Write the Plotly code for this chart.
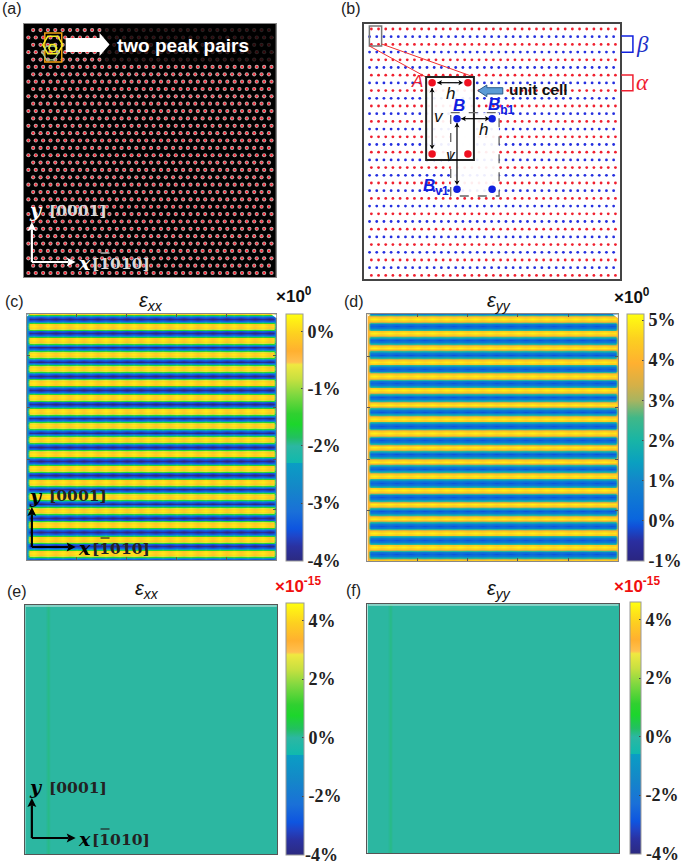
import numpy as np
import plotly.graph_objects as go

W, H = 685, 864

# ---------- data ----------
lattice_cols_a = [0, 1, 2, 3, 4, 5, 6, 7, 8, 9, 10, 11, 12, 13, 14, 15, 16, 17, 18, 19, 20, 21, 22, 23, 24, 25, 26, 27, 28, 29, 30, 31, 32, 33]
lattice_rows_a = [0, 1, 2, 3, 4, 5, 6, 7, 8, 9, 10, 11, 12, 13, 14, 15, 16, 17, 18, 19, 20, 21, 22, 23, 24, 25, 26, 27, 28, 29, 30, 31, 32, 33]
odd_row_shift_a = 0.65

lattice_cols_b = [0, 1, 2, 3, 4, 5, 6, 7, 8, 9, 10, 11, 12, 13, 14, 15, 16, 17, 18, 19, 20, 21, 22, 23, 24, 25, 26, 27, 28, 29, 30, 31, 32, 33, 34]
rows_alpha = [0, 2, 4, 6, 8, 10, 12, 14, 16, 18, 20, 22, 24, 26, 28, 30, 32]
rows_beta = [1, 3, 5, 7, 9, 11, 13, 15, 17, 19, 21, 23, 25, 27, 29, 31]
beta_shift = -0.25

cell_a_x = [8.46, 13.45, 8.46, 13.45]
cell_a_y = [6.97, 6.97, 16.23, 16.23]
cell_b_x = [11.93, 16.82, 11.93, 16.82]
cell_b_y = [11.65, 11.65, 20.82, 20.82]

# one stripe period of strain (%)
profile_xx = [0.05, -0.05, -1.5, -3.3, -3.9, -3.3, -1.5, -0.05]
profile_yy = [0.0, 0.6, 2.2, 4.4, 4.85, 4.4, 2.2, 0.6]
stripe_periods = 18
edge_xx = -2.7
edge_yy = 4.0

column_x = [0, 0.12, 0.4, 1, 2, 3, 4, 5, 6, 7, 8, 9, 10, 11, 12, 13, 14, 15, 16, 17, 18, 19, 20, 21, 22, 23, 24, 25,
            26, 27, 28, 29, 30, 31, 32, 33, 34, 34.6, 34.88, 35]
column_blend = [0, 0.15, 1, 1, 1, 1, 1, 1, 1, 1, 1, 1, 1, 1, 1, 1, 1, 1, 1, 1, 1, 1, 1, 1, 1, 1, 1, 1,
                1, 1, 1, 1, 1, 1, 1, 1, 1, 1, 0.15, 0]
column_wave = [0, 0, 0, 0.12, -0.12, 0.12, -0.12, 0.12, -0.12, 0.12, -0.12, 0.12, -0.12, 0.12, -0.12, 0.12, -0.12, 0.12, -0.12, 0.12,
               -0.12, 0.12, -0.12, 0.12, -0.12, 0.12, -0.12, 0.12, -0.12, 0.12, -0.12, 0.12, -0.12, 0.12, -0.12, 0.12, -0.12, 0, 0, 0]

residual_x = [0, 0.08, 0.09, 0.10, 1]
residual_y = [0, 1]
residual_values = [0, 0, 0.12, 0, 0]

ticks_c = [0, -1, -2, -3, -4]
ticks_d = [5, 4, 3, 2, 1, 0, -1]
ticks_e = [4, 2, 0, -2, -4]
range_c = [-4.01, 0.3]
range_d = [-1.01, 5.15]
range_e = [-4.01, 4.6]

scale_stepped = [
    [0, "#2c2a80"], [0.06, "#2a32a2"], [0.10, "#1f45c8"], [0.13, "#0e55e0"], [0.2, "#1a70d8"], [0.3, "#1488c8"],
    [0.398, "#0a9ec4"], [0.398, "#10b9ae"], [0.465, "#2cb7a2"], [0.50, "#22c060"], [0.553, "#1cd62c"], [0.596, "#30d030"],
    [0.674, "#80d840"], [0.737, "#c8e040"], [0.795, "#f0e840"], [0.805, "#ffc050"], [0.85, "#ffb030"], [0.92, "#fdd020"],
    [1, "#ffff10"],
]
scale_smooth = [
    [0, "#2a2580"], [0.08, "#2a2ea0"], [0.14, "#1050d8"], [0.17, "#0a66de"], [0.32, "#1385cc"], [0.40, "#0aa0c0"],
    [0.49, "#19b5a5"], [0.58, "#40b888"], [0.65, "#a8b460"], [0.71, "#d4b048"], [0.8, "#ffb030"], [0.9, "#fcd020"],
    [1, "#ffff10"],
]

# ---------- helpers ----------
def px(x):
    return x / W

def py(y):
    return 1 - y / H

annotations, shapes = [], []

def label(x, y, text, size=16, color="#111", family="Liberation Sans", anchor="center"):
    annotations.append(dict(x=px(x), y=py(y), xref="paper", yref="paper", text=text, showarrow=False,
                            xanchor=anchor, yanchor="middle", borderpad=0,
                            font=dict(size=size, color=color, family=family)))

def path(points, line=None, width=1, fill=None, close=True, dash=None):
    d = "M" + " L".join(f"{px(a):.5f},{py(b):.5f}" for a, b in points) + (" Z" if close else "")
    shapes.append(dict(type="path", path=d, xref="paper", yref="paper", layer="above",
                       line=dict(color=line or "rgba(0,0,0,0)", width=width if line else 0, dash=dash or "solid"),
                       fillcolor=fill or "rgba(0,0,0,0)"))

def head(x, y, ux, uy, color, length, half):
    nx, ny = -uy, ux
    path([(x, y), (x - ux * length + nx * half, y - uy * length + ny * half),
          (x - ux * length * 0.8, y - uy * length * 0.8),
          (x - ux * length - nx * half, y - uy * length - ny * half)], fill=color)

def arrow(x0, y0, x1, y1, color="#000", width=2, length=9, half=4.5, both=False):
    L = float(np.hypot(x1 - x0, y1 - y0))
    ux, uy = (x1 - x0) / L, (y1 - y0) / L
    path([(x0, y0), (x1 - ux * length * 0.8, y1 - uy * length * 0.8)], line=color, width=width, close=False)
    head(x1, y1, ux, uy, color, length, half)
    if both:
        head(x0, y0, -ux, -uy, color, length, half)

def box(x0, y0, x1, y1, **kw):
    path([(x0, y0), (x1, y0), (x1, y1), (x0, y1)], **kw)

def hexagon(cx, cy, r, color, width=1.5):
    pts = [(cx + r * np.cos(np.pi * k / 3), cy + r * np.sin(np.pi * k / 3)) for k in range(6)]
    path(pts, line=color, width=width)

def axes_labels(xc, yc, top, right, ylab_y, xlab_y, color, shade):
    arrow(xc, yc, xc, top, color=color, width=2.2)
    arrow(xc, yc, right, yc, color=color, width=2.2)
    label(36, ylab_y, "<b><i>y</i></b>", size=19, color=color, family="DejaVu Serif")
    label(78, ylab_y, "<b>[0001]</b>", size=15.5, color=shade, family="DejaVu Serif")
    label(85, xlab_y, "<b><i>x</i></b>", size=19, color=color, family="DejaVu Serif")
    label(122, xlab_y, "<b>[1010]</b>", size=15.5, color=shade, family="DejaVu Serif")
    path([(101, xlab_y - 10), (110, xlab_y - 10)], line=shade, width=1.2, close=False)

fig = go.Figure()

domains = {
    "": ((24, 277), (24, 277)),
    "2": ((366, 622.7), (23.5, 279)),
    "3": ((26.7, 277.7), (314, 560)),
    "4": ((369, 621), (314, 561)),
    "5": ((25.3, 278.7), (605, 854)),
    "6": ((369, 622), (604, 853)),
}

# ---------- panel a ----------
ax_even_x = [c for r in lattice_rows_a if r % 2 == 0 for c in lattice_cols_a]
ax_even_y = [r for r in lattice_rows_a if r % 2 == 0 for c in lattice_cols_a]
ax_odd_x = [c + odd_row_shift_a for r in lattice_rows_a if r % 2 == 1 for c in lattice_cols_a[:-1]]
ax_odd_y = [r for r in lattice_rows_a if r % 2 == 1 for c in lattice_cols_a[:-1]]
a_x = ax_even_x + ax_odd_x
a_y = ax_even_y + ax_odd_y
fig.add_trace(go.Scatter(x=a_x, y=a_y, mode="markers", xaxis="x", yaxis="y", hoverinfo="skip",
                         marker=dict(size=4.2, color="rgba(240,215,215,0.8)", line=dict(width=0))))
fig.add_trace(go.Scatter(x=a_x, y=a_y, mode="markers", xaxis="x", yaxis="y", hoverinfo="skip",
                         marker=dict(size=2.3, color="#ff2030", line=dict(width=0))))

# ---------- panel b ----------
b_ax = [c for r in rows_alpha for c in lattice_cols_b]
b_ay = [r for r in rows_alpha for c in lattice_cols_b]
b_bx = [c + beta_shift for r in rows_beta for c in lattice_cols_b]
b_by = [r for r in rows_beta for c in lattice_cols_b]
fig.add_trace(go.Scatter(x=b_ax, y=b_ay, mode="markers", xaxis="x2", yaxis="y2", hoverinfo="skip",
                         marker=dict(size=2.8, color="#f0202f", line=dict(width=0))))
fig.add_trace(go.Scatter(x=b_bx, y=b_by, mode="markers", xaxis="x2", yaxis="y2", hoverinfo="skip",
                         marker=dict(size=2.8, color="#2530e0", line=dict(width=0))))

bx = lambda v: (v - 373) / 7.21
by = lambda v: (v - 29) / 7.7
for x0, y0, x1, y1 in [(428, 77, 476, 160), (452.7, 112.7, 501.3, 196)]:
    fig.add_trace(go.Scatter(x=[bx(x0), bx(x1), bx(x1), bx(x0), bx(x0)], y=[by(y0), by(y0), by(y1), by(y1), by(y0)],
                             mode="lines", fill="toself", fillcolor="rgba(255,255,255,0.92)", line=dict(width=0),
                             xaxis="x2", yaxis="y2", hoverinfo="skip"))
fig.add_trace(go.Scatter(x=cell_a_x, y=cell_a_y, mode="markers", xaxis="x2", yaxis="y2", hoverinfo="skip",
                         marker=dict(size=7.5, color="#f01020", line=dict(width=0))))
fig.add_trace(go.Scatter(x=cell_b_x, y=cell_b_y, mode="markers", xaxis="x2", yaxis="y2", hoverinfo="skip",
                         marker=dict(size=7.5, color="#1020e0", line=dict(width=0))))

# ---------- heatmaps ----------
def stripes(profile, edge):
    rows = np.tile(profile, stripe_periods)
    z = []
    for v in rows:
        row = []
        for b, w in zip(column_blend, column_wave):
            row.append(b * (v + w) + (1 - b) * edge)
        z.append(row)
    return z

def colorbar(x0, x1, y0, y1, vals, skip=()):
    return dict(x=px(x0), xanchor="left", y=py(y1), yanchor="bottom", len=(y1 - y0) / H, lenmode="fraction",
                thickness=x1 - x0, thicknessmode="pixels", xpad=0, ypad=0, outlinecolor="#9a9a9a", outlinewidth=1,
                tickmode="array", tickvals=vals, ticktext=["" if v in skip else f"<b>{v}%</b>" for v in vals],
                ticks="inside", ticklen=2, tickcolor="#444",
                tickfont=dict(family="Liberation Serif", size=18, color="#222"))

row_index = list(range(8 * stripe_periods))
fig.add_trace(go.Heatmap(z=stripes(profile_xx, edge_xx), x=column_x, y=row_index, xaxis="x3", yaxis="y3",
                         colorscale=scale_stepped, zmin=range_c[0], zmax=range_c[1], zsmooth="best", hoverinfo="skip",
                         colorbar=colorbar(287, 304, 314, 561, ticks_c)))
fig.add_trace(go.Heatmap(z=stripes(profile_yy, edge_yy), x=column_x, y=row_index, xaxis="x4", yaxis="y4",
                         colorscale=scale_smooth, zmin=range_d[0], zmax=range_d[1], zsmooth="best", hoverinfo="skip",
                         colorbar=colorbar(630, 647, 314, 561, ticks_d)))
residual_z = [residual_values for _ in residual_y]
fig.add_trace(go.Heatmap(z=residual_z, x=residual_x, y=residual_y, xaxis="x5", yaxis="y5",
                         colorscale=scale_stepped, zmin=range_e[0], zmax=range_e[1], zsmooth="best", hoverinfo="skip",
                         colorbar=colorbar(287.5, 305, 603, 855, ticks_e, skip=(-4,))))
fig.add_trace(go.Heatmap(z=residual_z, x=residual_x, y=residual_y, xaxis="x6", yaxis="y6",
                         colorscale=scale_stepped, zmin=range_e[0], zmax=range_e[1], zsmooth="best", hoverinfo="skip",
                         colorbar=colorbar(632.7, 644, 602, 854, ticks_e, skip=(-4,))))

# ---------- axes ----------
def axis(dom, horizontal, rng, line="#888", lw=1, tickvals=None):
    lo, hi = dom
    d = [lo / W, hi / W] if horizontal else [1 - hi / H, 1 - lo / H]
    return dict(domain=d, range=rng, showgrid=False, zeroline=False, showticklabels=False, showline=True,
                linecolor=line, linewidth=lw, mirror="ticks" if tickvals else True,
                ticks="inside" if tickvals else "", ticklen=3, tickcolor="#555", tickvals=tickvals or [],
                fixedrange=True)

layout = dict(width=W, height=H, margin=dict(l=0, r=0, t=0, b=0), paper_bgcolor="white", plot_bgcolor="white",
              showlegend=False)
col_ticks = [7, 14, 21, 28]
row_ticks = [111.4, 83, 53.9, 24.8]
layout["xaxis"] = axis(domains[""][0], True, [(24 - 28.5) / 7.4, (277 - 28.5) / 7.4])
layout["yaxis"] = axis(domains[""][1], False, [(273 - 277) / 7.36, (273 - 24) / 7.36])
layout["xaxis"]["anchor"] = "y"
layout["yaxis"]["anchor"] = "x"
layout["xaxis2"] = axis(domains["2"][0], True, [bx(366), bx(622.7)], line="#444", lw=2)
layout["yaxis2"] = axis(domains["2"][1], False, [by(279), by(23.5)], line="#444", lw=2)
layout["xaxis3"] = axis(domains["3"][0], True, [0, 35], tickvals=col_ticks)
layout["yaxis3"] = axis(domains["3"][1], False, [139.8, 1.2], tickvals=row_ticks)
layout["xaxis4"] = axis(domains["4"][0], True, [0, 35], tickvals=col_ticks)
layout["yaxis4"] = axis(domains["4"][1], False, [139.8, 1.2], tickvals=row_ticks)
layout["xaxis5"] = axis(domains["5"][0], True, [0, 1], line="#555")
layout["yaxis5"] = axis(domains["5"][1], False, [0, 1], line="#555")
layout["xaxis6"] = axis(domains["6"][0], True, [0, 1], line="#555")
layout["yaxis6"] = axis(domains["6"][1], False, [0, 1], line="#555")
for k in ["2", "3", "4", "5", "6"]:
    layout["xaxis" + k]["anchor"] = "y" + k
    layout["yaxis" + k]["anchor"] = "x" + k

# black ground for panel a sits under the dots
shapes.append(dict(type="rect", xref="paper", yref="paper", x0=px(24), x1=px(277), y0=py(277), y1=py(24),
                   fillcolor="#000", line=dict(width=0), layer="below"))

# ---------- panel a overlays ----------
box(102, 27, 275, 62, fill="rgba(0,0,0,0.8)")
path([(66, 38), (100, 38), (100, 33), (110, 44.5), (100, 56), (100, 52), (66, 52)], fill="#fff")
label(183.5, 46, "<b>two peak pairs</b>", size=19, color="#fff")
box(45, 33, 62, 62, line="#f0a010", width=1.5)
hexagon(53, 45, 10, "#f5ee20", 1.5)
hexagon(50.7, 53, 8, "#9ccf8c", 1.2)
hexagon(53, 48, 4, "#f5ee20", 1.5)
axes_labels(32, 262, 222, 76, 210, 263, "#fff", "#d8d8d8")

# ---------- panel b overlays ----------
box(371, 26, 383.3, 46, line="#777", width=1.5)
path([(371, 46), (428.3, 77.3)], line="#f03030", width=1, close=False)
path([(383.3, 44), (476, 77)], line="#f03030", width=1, close=False)
box(428, 77, 476, 160, line="#222", width=2)
box(452.7, 112.7, 501.3, 196, line="#666", width=1.3, dash="dash")
small = dict(both=True, width=1.2, length=4.5, half=2.6)
arrow(439.3, 82.7, 465, 82.7, **small)
arrow(434, 88, 434, 149.3, **small)
arrow(463.3, 118.7, 491.7, 118.7, **small)
arrow(459, 123, 459, 185, **small)
label(452, 94, "<i>h</i>", size=17)
label(440.7, 116.7, "<i>v</i>", size=17)
label(485.7, 129, "<i>h</i>", size=17)
label(452.7, 155, "<i>v</i>", size=17)
label(419, 81.7, "<i>A</i>", size=17, color="#f02030")
label(460.7, 105, "<b><i>B</i></b>", size=17, color="#1020e0")
label(504, 106, "<b><i>B</i><sub>b1</sub></b>", size=17, color="#1020e0")
label(438, 187, "<b><i>B</i><sub>v1</sub></b>", size=17, color="#1020e0")
label(541, 90, "<b>unit cell</b>", size=15.5, color="#111")
path([(480, 90.7), (489, 85), (489, 87.7), (505, 87.7), (505, 94), (489, 94), (489, 96.7)],
     line="#2a5a8a", width=1, fill="#5b9bd5")
path([(624, 36), (635.7, 36), (635.7, 52.3), (624, 52.3)], line="#1020e0", width=1.5, close=False)
path([(624, 75), (635.7, 75), (635.7, 90.7), (624, 90.7)], line="#f02030", width=1.5, close=False)
label(645, 44, "<i>\u03b2</i>", size=23, color="#2030c8", family="Liberation Serif")
label(645, 83, "<i>\u03b1</i>", size=23, color="#f02030", family="Liberation Serif")

# ---------- heatmap panel overlays ----------
axes_labels(32, 547, 507, 76, 495.7, 548, "#000", "#222")
axes_labels(32, 838, 798, 76, 787, 839, "#000", "#222")
path([(277.5, 314.5), (272.5, 314.5), (277.5, 318)], fill="#fff")
path([(620.5, 314.5), (615.5, 314.5), (620.5, 318)], fill="#fff")
path([(369.5, 314.5), (372, 314.5), (369.5, 316.5)], fill="#fff")
path([(27, 314.5), (29.5, 314.5), (27, 316.5)], fill="#fff")
path([(26, 606), (278, 606)], line="#dcecea", width=1, close=False)
path([(370, 605), (621, 605)], line="#dcecea", width=1, close=False)

# ---------- panel letters, titles, exponents ----------
for x, y, t in [(12, 9, "(a)"), (353, 9, "(b)"), (15, 302, "(c)"), (356, 302, "(d)"), (17, 591, "(e)"), (355, 590, "(f)")]:
    label(x, y, t, size=16, color="#222")
for x, y, t in [(152, 301, "xx"), (500.7, 301, "yy"), (148, 589, "xx"), (500.7, 589, "yy")]:
    label(x, y, f"<i>\u03b5<sub>{t}</sub></i>", size=20, color="#111")
for x, y, t, c in [(295, 295, "0", "#111"), (635, 296, "0", "#111"), (299, 585, "-15", "#f01010"), (640, 585, "-15", "#f01010")]:
    label(x, y, f"<b>\u00d710<sup>{t}</sup></b>", size=17, color=c)
# lowest colour-bar labels sit against the page edge, so they are placed directly
label(323, 855, "<b>-4%</b>", size=18, color="#222", family="Liberation Serif")
label(665, 854, "<b>-4%</b>", size=18, color="#222", family="Liberation Serif")

layout["annotations"] = annotations
layout["shapes"] = shapes
fig.update_layout(**layout)

fig.write_html("out.html", post_script="document.body.style.margin='0';document.body.style.overflow='hidden';",
               config=dict(displayModeBar=False))
